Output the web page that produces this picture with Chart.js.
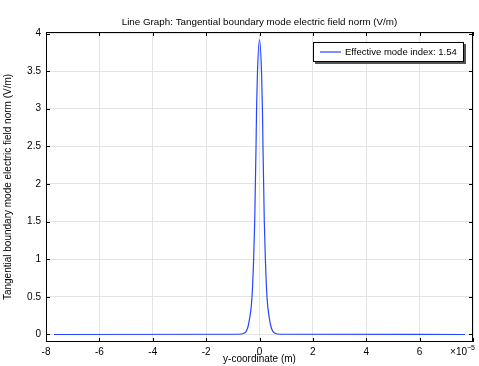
<!DOCTYPE html>
<html>
<head>
<meta charset="utf-8">
<script src="https://cdn.jsdelivr.net/npm/chart.js@4/dist/chart.umd.min.js"></script>
<style>
  html, body { margin: 0; padding: 0; background: #fff; }
  #wrap { width: 479px; height: 366px; }
</style>
</head>
<body>
<div id="wrap"><canvas id="chart" width="479" height="366"></canvas></div>
<script>
// y-coordinate (x10^-5 m) and field norm (V/m)
const yCoord = [-7.7, -0.8, -0.56, -0.45, -0.38, -0.28, -0.22, -0.18, -0.16, -0.13, -0.11, -0.075, 0,
  0.075, 0.11, 0.13, 0.16, 0.18, 0.22, 0.28, 0.38, 0.45, 0.56, 0.8, 7.7];
const fieldNorm = [0, 0.003, 0.02, 0.08, 0.19, 0.5, 1.0, 1.5, 1.9, 2.5, 3.0, 3.5, 3.92,
  3.5, 3.0, 2.5, 1.9, 1.5, 1.0, 0.5, 0.19, 0.08, 0.02, 0.003, 0];

const xTicks = [-8, -6, -4, -2, 0, 2, 4, 6, 8];
const yTicks = [0, 0.5, 1, 1.5, 2, 2.5, 3, 3.5, 4];
const seriesLabel = "Effective mode index: 1.54";
const chartTitle = "Line Graph: Tangential boundary mode electric field norm (V/m)";
const FONT = "'Liberation Sans', Arial, sans-serif";

// заголовок, рамка, внутренние засечки, множитель оси и легенда
const framePlugin = {
  id: "frame",
  afterDraw(chart) {
    const { ctx, chartArea: a, scales } = chart;
    ctx.save();

    ctx.fillStyle = "#000";
    ctx.font = "9.8px " + FONT;
    ctx.textAlign = "center";
    ctx.textBaseline = "middle";
    ctx.fillText(chartTitle, (a.left + a.right) / 2, 22);

    ctx.strokeStyle = "#000";
    ctx.lineWidth = 1;
    ctx.strokeRect(a.left + 0.5, a.top + 0.5, a.right - a.left - 1, a.bottom - a.top - 1);

    ctx.beginPath();
    xTicks.forEach((v) => {
      const px = Math.round(scales.x.getPixelForValue(v)) + 0.5;
      ctx.moveTo(px, a.bottom); ctx.lineTo(px, a.bottom - 4);
      ctx.moveTo(px, a.top); ctx.lineTo(px, a.top + 4);
    });
    yTicks.forEach((v) => {
      const py = Math.round(scales.y.getPixelForValue(v)) + 0.5;
      ctx.moveTo(a.left, py); ctx.lineTo(a.left + 4, py);
      ctx.moveTo(a.right, py); ctx.lineTo(a.right - 4, py);
    });
    ctx.stroke();

    // x10^-5
    ctx.font = "10px " + FONT;
    ctx.textAlign = "right";
    ctx.fillText("\u00d710", a.right - 6, a.bottom + 10);
    ctx.font = "7px " + FONT;
    ctx.textAlign = "left";
    ctx.fillText("\u22125", a.right - 6, a.bottom + 6);

    // легенда
    const bx = 313, by = 42, bw = 151, bh = 20;
    ctx.fillStyle = "#555";
    ctx.fillRect(bx + 2, by + 2, bw, bh);
    ctx.fillStyle = "#fff";
    ctx.fillRect(bx, by, bw, bh);
    ctx.strokeStyle = "#000";
    ctx.strokeRect(bx + 0.5, by + 0.5, bw - 1, bh - 1);
    const ds = chart.data.datasets[0];
    ctx.strokeStyle = ds.borderColor;
    ctx.lineWidth = 1.2;
    ctx.beginPath();
    ctx.moveTo(bx + 7, by + bh / 2); ctx.lineTo(bx + 28, by + bh / 2);
    ctx.stroke();
    ctx.fillStyle = "#000";
    ctx.font = "9.5px " + FONT;
    ctx.textAlign = "left";
    ctx.fillText(ds.label, bx + 32, by + bh / 2 + 0.5);
    ctx.restore();
  },
};

const data = {
  datasets: [
    {
      label: seriesLabel,
      data: yCoord.map((x, i) => ({ x, y: fieldNorm[i] })),
      borderColor: "rgb(40, 70, 255)",
      borderWidth: 1.2,
      pointRadius: 0,
      fill: false,
      cubicInterpolationMode: "monotone",
    },
  ],
};

const config = {
  type: "line",
  data,
  options: {
    responsive: false,
    animation: false,
    layout: { padding: { top: 32, right: 6, left: 0, bottom: 0 } },
    scales: {
      x: {
        type: "linear",
        min: -8,
        max: 8,
        afterFit: (s) => { s.height = 24; },
        afterBuildTicks: (s) => { s.ticks = xTicks.map((value) => ({ value })); },
        grid: { color: "#e4e4e4", drawTicks: false },
        border: { display: false },
        ticks: {
          padding: 4,
          color: "#000",
          font: { size: 10, family: FONT },
          maxRotation: 0,
          callback: (v) => (v === 8 ? "" : String(v)),
        },
        title: {
          display: true,
          text: "y-coordinate (m)",
          color: "#000",
          font: { size: 10, family: FONT },
          padding: { top: 0, bottom: 1 },
        },
      },
      y: {
        min: -0.1,
        max: 4.02,
        afterFit: (s) => { s.width = 46; },
        afterBuildTicks: (s) => { s.ticks = yTicks.map((value) => ({ value })); },
        grid: { color: "#e4e4e4", drawTicks: false },
        border: { display: false },
        ticks: {
          padding: 5,
          color: "#000",
          font: { size: 10, family: FONT },
          callback: (v) => String(v),
        },
        title: {
          display: true,
          text: "Tangential boundary mode electric field norm (V/m)",
          color: "#000",
          font: { size: 10, family: FONT },
          padding: { top: 2, bottom: 0 },
        },
      },
    },
    plugins: {
      legend: { display: false },
      tooltip: { enabled: false },
      title: { display: false },
    },
  },
  plugins: [framePlugin],
};

const ctx = document.querySelector("#chart").getContext("2d");
const chart = new Chart(ctx, config);
</script>
</body>
</html>
